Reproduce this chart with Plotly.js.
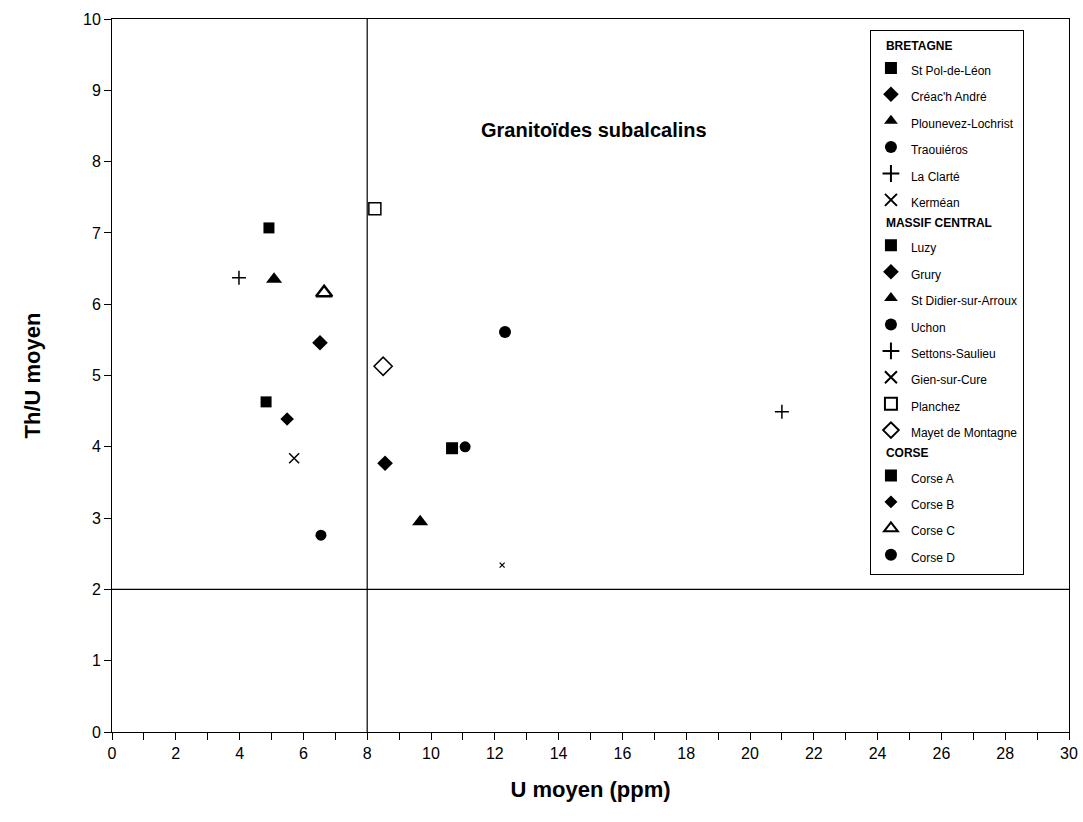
<!DOCTYPE html>
<html>
<head>
<meta charset="utf-8">
<script src="https://cdn.plot.ly/plotly-3.0.1.min.js"></script>
<style>html,body{margin:0;padding:0;background:#fff;}#chart{width:1083px;height:822px;}</style>
</head>
<body>
<div id="chart"></div>
<script>
// Series: [group, name]
const groups = ["BRETAGNE","BRETAGNE","BRETAGNE","BRETAGNE","BRETAGNE","BRETAGNE",
  "MASSIF CENTRAL","MASSIF CENTRAL","MASSIF CENTRAL","MASSIF CENTRAL","MASSIF CENTRAL","MASSIF CENTRAL","MASSIF CENTRAL","MASSIF CENTRAL",
  "CORSE","CORSE","CORSE","CORSE"];
const names = ["St Pol-de-Léon","Créac'h André","Plounevez-Lochrist","Traouiéros","La Clarté","Kerméan",
  "Luzy","Grury","St Didier-sur-Arroux","Uchon","Settons-Saulieu","Gien-sur-Cure","Planchez","Mayet de Montagne",
  "Corse A","Corse B","Corse C","Corse D"];
// U moyen (ppm)
const uValues = [4.92, 6.52, 5.08, 6.55, 3.98, 12.23,
  10.66, 8.56, 9.66, 12.32, 21.0, 5.71, 8.24, 8.50,
  4.83, 5.49, 6.65, 11.07];
// Th/U moyen
const thuValues = [7.07, 5.46, 6.35, 2.76, 6.37, 2.34,
  3.98, 3.77, 2.95, 5.61, 4.49, 3.84, 7.34, 5.13,
  4.63, 4.39, 6.16, 4.00];
const symbols = ["square","diamond","triangle-up","circle","cross-thin-open","x-thin-open",
  "square","diamond","triangle-up","circle","cross-thin-open","x-thin-open","square-open","diamond-open",
  "square","diamond","triangle-up","circle"];
const sizes = [11,12,14,11,10,5, 12,12,14,12,10,10, 12,14, 11,12,14,11];
const fills = ["#000","#000","#000","#000","#000","#000",
  "#000","#000","#000","#000","#000","#000","#000","#000",
  "#000","#000","#fff","#000"];
const lineW = [0,0,0,0,1.5,1.2, 0,0,0,0,1.5,1.5, 1.5,1.5, 0,1.5,2.5,0];
const lineC = ["#000","#000","#000","#000","#000","#000","#000","#000","#000","#000","#000","#000","#000","#000","#000","#fff","#000","#000"];

// Reference lines
const refU = [8];
const refThU = [2];
const xTickVals = [0,2,4,6,8,10,12,14,16,18,20,22,24,26,28,30];
const yTickVals = [0,1,2,3,4,5,6,7,8,9,10];
const annotationText = ["Granitoïdes subalcalins"];

const traces = names.map((n, i) => ({
  type: "scatter",
  mode: "markers",
  x: [uValues[i]],
  y: [thuValues[i]],
  name: '<span style="font-size:12px">' + n + '</span>',
  legendgroup: groups[i],
  legendgrouptitle: {text: "\u00a0\u00a0\u00a0" + groups[i], font: {size: 12, family: "Liberation Sans, Arial, sans-serif", weight: "bold", color: "#000"}},
  marker: {symbol: symbols[i], size: sizes[i], color: fills[i], line: {color: lineC[i], width: lineW[i]}},
  cliponaxis: false
}));

const layout = {
  width: 1083, height: 822,
  margin: {l: 112, r: 14, t: 19, b: 90},
  paper_bgcolor: "#fff", plot_bgcolor: "#fff",
  font: {family: "Liberation Sans, Arial, sans-serif", color: "#000"},
  showlegend: true,
  legend: {
    x: 0.792, xanchor: "left", y: 0.985, yanchor: "top",
    bordercolor: "#000", borderwidth: 1, bgcolor: "#fff",
    font: {size: 18, family: "Liberation Sans, Arial, sans-serif", color: "#000"},
    traceorder: "grouped", tracegroupgap: 0,
    itemsizing: "constant", itemwidth: 30
  },
  xaxis: {
    range: [0, 30], tickvals: xTickVals, ticks: "outside", ticklen: 7, tickcolor: "#000",
    minor: {dtick: 1, ticks: "outside", ticklen: 7, tickcolor: "#000"},
    showline: true, linecolor: "#000", linewidth: 1, mirror: true,
    showgrid: false, zeroline: false,
    tickfont: {size: 16, color: "#000"},
    title: {text: "U moyen (ppm)", font: {size: 22, weight: "bold", color: "#000"}, standoff: 20}
  },
  yaxis: {
    range: [0, 10], tickvals: yTickVals, ticks: "outside", ticklen: 7, tickcolor: "#000",
    showline: true, linecolor: "#000", linewidth: 1, mirror: true,
    showgrid: false, zeroline: false,
    tickfont: {size: 16, color: "#000"},
    title: {text: "Th/U moyen", font: {size: 22, weight: "bold", color: "#000"}, standoff: 36}
  },
  shapes: [
    {type: "line", xref: "x", yref: "y", x0: refU[0], x1: refU[0], y0: 0, y1: 10, line: {color: "#000", width: 1.2}},
    {type: "line", xref: "x", yref: "y", x0: 0, x1: 30, y0: refThU[0], y1: refThU[0], line: {color: "#000", width: 1.2}}
  ],
  annotations: [
    {xref: "x", yref: "y", x: 15.1, y: 8.45, text: annotationText[0], showarrow: false,
     font: {size: 20, weight: "bold", color: "#000"}}
  ]
};

Plotly.newPlot("chart", traces, layout, {displayModeBar: false, staticPlot: true});
</script>
</body>
</html>
